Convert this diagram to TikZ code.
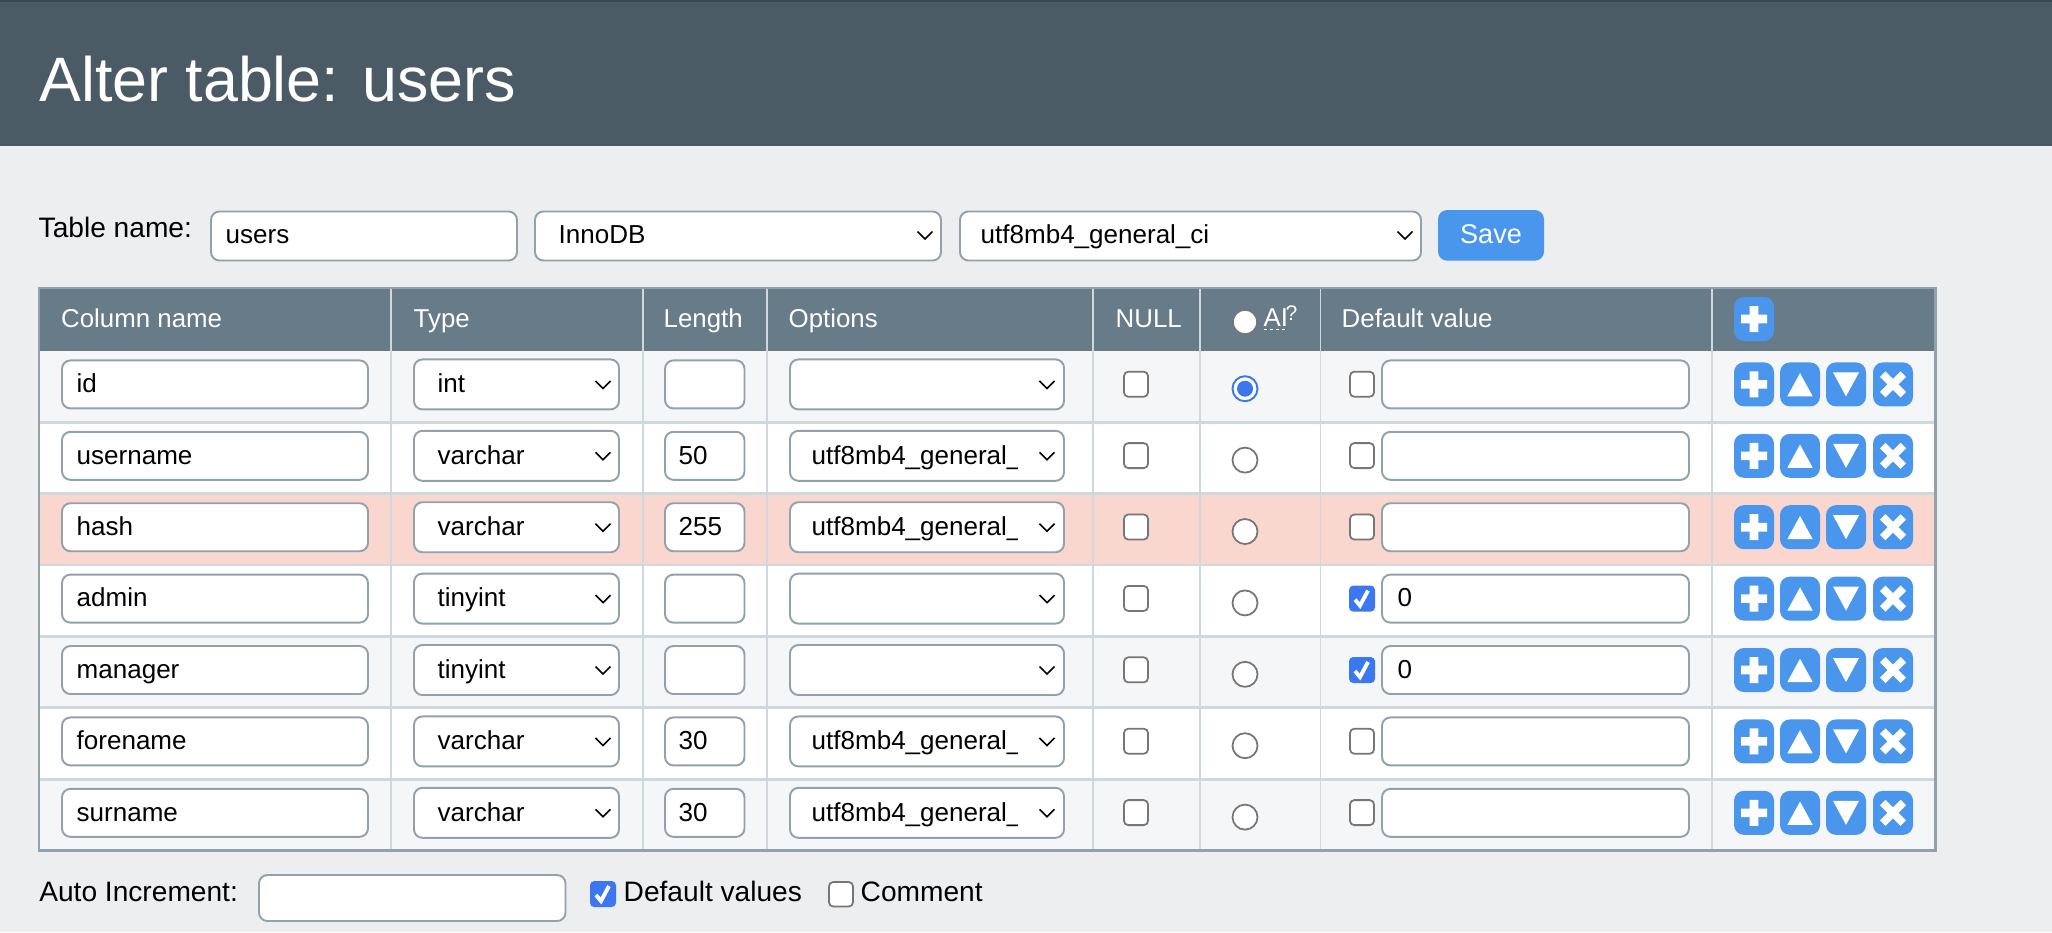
\documentclass[tikz,border=0pt]{standalone}
\usepackage{fontspec}
\setmainfont{Liberation Sans}
\definecolor{pagebg}{HTML}{EDEEF0}
\definecolor{titlebg}{HTML}{4A5B66}
\definecolor{titletop}{HTML}{3A4A54}
\definecolor{headbg}{HTML}{677B88}
\definecolor{rowlight}{HTML}{F5F6F8}
\definecolor{rowpink}{HTML}{FAD7CE}
\definecolor{gridline}{HTML}{CFD8DC}
\definecolor{fieldline}{HTML}{93A1AD}
\definecolor{btnblue}{HTML}{4A96EC}
\definecolor{tickblue}{HTML}{3B78F0}
\definecolor{boxgrey}{HTML}{767676}
\newcommand{\fieldfont}{\fontsize{7.4}{9}\selectfont}
\newcommand{\labelfont}{\fontsize{8}{10}\selectfont}
\newcommand{\headfont}{\fontsize{7.35}{9}\selectfont}
\tikzset{
    fieldbox/.style={draw=fieldline, fill=white, line width=0.55pt, rounded corners=2.4pt},
    tickbox/.style={draw=boxgrey, fill=white, line width=0.5pt, rounded corners=1.2pt},
    fieldtext/.style={anchor=base west, inner sep=0pt, font=\fieldfont, text=black},
    labeltext/.style={anchor=base west, inner sep=0pt, font=\labelfont, text=black},
    headtext/.style={anchor=base west, inner sep=0pt, font=\headfont, text=white},
    chevron/.pic={\draw[line width=0.45pt, black] (-7.5,-3.5) -- (0,4) -- (7.5,-3.5);},
    checkedbox/.pic={
        \fill[tickblue, rounded corners=1.2pt] (-13,-13) rectangle (13,13);
        \draw[white, line width=1.1pt] (-7,1) -- (-2,7) -- (6,-8);
    },
    btnbase/.pic={\fill[btnblue, rounded corners=2.8pt] (-20,-22) rectangle (20,22);},
    plusbtn/.pic={
        \pic {btnbase};
        \fill[white] (-13,-4.3) rectangle (13,4.3) (-4.3,-13) rectangle (4.3,13);
    },
    upbtn/.pic={
        \pic {btnbase};
        \fill[white] (0,-11.3) -- (12.7,12) -- (-12.7,12) -- cycle;
    },
    downbtn/.pic={
        \pic {btnbase};
        \fill[white] (0,12) -- (13,-12) -- (-13,-12) -- cycle;
    },
    crossbtn/.pic={
        \pic {btnbase};
        \draw[white, line width=2.2pt] (-10.3,-10.3) -- (10.3,10.3) (-10.3,10.3) -- (10.3,-10.3);
    }
}
\begin{document}
\begin{tikzpicture}[x=0.01cm,y=-0.01cm]
\useasboundingbox (0,0) rectangle (2052,932);
\fill[pagebg] (0,0) rectangle (2052,932);
\fill[titlebg] (0,0) rectangle (2052,145.7);
\fill[titletop] (0,0) rectangle (2052,2);
\node[anchor=base west, inner sep=0pt, text=white, font=\fontsize{17.85}{22}\selectfont] (title) at (38.5,101) {Alter table: users};

\node[labeltext] (tablelabel) at (38,237) {Table name:};
\draw[fieldbox] (211,211.5) rectangle (517,260.5);
\node[fieldtext] (tablename) at (225,243) {users};
\draw[fieldbox] (535,211.5) rectangle (941,260.5);
\node[fieldtext] (engine) at (558,243) {InnoDB};
\pic at (925,235) {chevron};
\draw[fieldbox] (960,211.5) rectangle (1421,260.5);
\node[fieldtext] (collation) at (980,243) {utf8mb4\_general\_ci};
\pic at (1405,235) {chevron};
\fill[btnblue, rounded corners=2.6pt] (1438,210) rectangle (1544,260.7);
\node[anchor=base, inner sep=0pt, text=white, font=\fontsize{7.7}{9}\selectfont] (save) at (1491,243) {Save};

\fill[headbg] (38,287) rectangle (1936,351);
\foreach \x/\p/\t in {60.5/hcolumn/Column name, 413/htype/Type, 663/hlength/Length, 788/hoptions/Options, 1115/hnull/NULL, 1341/hdefault/Default value}{
    \node[headtext] (\p) at (\x,327) {\t};
}
\draw[boxgrey, fill=white, line width=0.4pt] (1245,322) circle (12);
\node[headtext] (hai) at (1263,326) {AI};
\node[anchor=base west, inner sep=0pt, text=white, font=\fontsize{6}{7}\selectfont] (haiq) at (1285,320.7) {?};
\draw[white, line width=0.55pt, dash pattern=on 0.85pt off 0.85pt] (1264,329.5) -- (1285,329.5);
\pic at (1754,319) {plusbtn};

\foreach \i/\cname/\ctype/\clen/\copt/\cdef/\rowfill in {
    1/id/int//0/0/rowlight,
    2/username/varchar/50/1/0/white,
    3/hash/varchar/255/1/0/rowpink,
    4/admin/tinyint//0/1/white,
    5/manager/tinyint//0/1/rowlight,
    6/forename/varchar/30/1/0/white,
    7/surname/varchar/30/1/0/rowlight}{
    \pgfmathsetmacro{\ytop}{350.7+71.4*(\i-1)}
    \begin{scope}[shift={(0,\ytop)}]
    \fill[\rowfill] (38,0) rectangle (1936,71.4);
    \draw[fieldbox] (62,9.7) rectangle (368,57.7);
    \node[fieldtext] (name\i) at (76,42) {\cname};
    \draw[fieldbox] (414,8.7) rectangle (619,58.7);
    \node[fieldtext] (type\i) at (437,42) {\ctype};
    \pic at (603,33.7) {chevron};
    \draw[fieldbox] (665,9.7) rectangle (744.5,57.7);
    \node[fieldtext] (len\i) at (678,42) {\clen};
    \draw[fieldbox] (790,8.7) rectangle (1064,58.7);
    \ifnum\copt=1
    \begin{scope}
    \clip (800,8) rectangle (1017,58);
    \node[fieldtext] (opt\i) at (811,42) {utf8mb4\_general\_};
    \end{scope}
    \fi
    \pic at (1047,33.7) {chevron};
    \draw[tickbox] (1124,21) rectangle (1148,46);
    \draw[fieldbox] (1382,9.7) rectangle (1689,57.7);
    \ifnum\cdef=1
    \pic at (1362,33.7) {checkedbox};
    \node[fieldtext] (def\i) at (1397,42) {0};
    \else
    \draw[tickbox] (1350,21) rectangle (1374,46);
    \fi
    \ifnum\i=1
    \draw[tickblue, fill=white, line width=0.55pt] (1245,38) circle (12.5);
    \fill[tickblue] (1245,38) circle (8);
    \else
    \draw[boxgrey, fill=white, line width=0.5pt] (1245,38) circle (12.5);
    \fi
    \pic at (1754,33.7) {plusbtn};
    \pic at (1800,33.7) {upbtn};
    \pic at (1846,33.7) {downbtn};
    \pic at (1893,33.7) {crossbtn};
    \end{scope}
}

\foreach \x in {391,643,767,1093,1200,1320.5,1712}{
    \draw[gridline, line width=0.55pt] (\x,287) -- (\x,851);
}
\foreach \i in {1,...,6}{
    \pgfmathsetmacro{\yline}{350.7+71.4*\i}
    \draw[gridline, line width=0.8pt] (38,\yline) -- (1936,\yline);
}
\draw[fieldline, line width=0.7pt] (39,288) rectangle (1935.5,850.5);

\node[labeltext] (autolabel) at (38.6,901) {Auto Increment:};
\draw[fieldbox] (259,875) rectangle (565.5,921);
\pic at (603,894) {checkedbox};
\node[labeltext] (defaults) at (623,901) {Default values};
\draw[tickbox] (829,882) rectangle (853,906.5);
\node[labeltext] (comment) at (860,901) {Comment};
\end{tikzpicture}
\end{document}
